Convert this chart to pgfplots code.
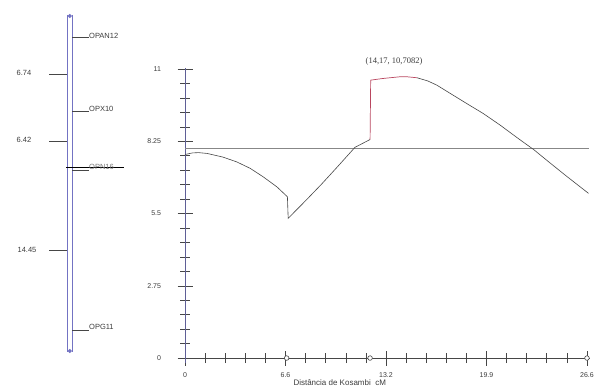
\documentclass[border=0pt]{standalone}
\usepackage{pgfplots}
\pgfplotsset{compat=1.18}
\usepackage{fontspec}
\setmainfont{Liberation Sans}
\newfontfamily\serifann{Liberation Serif}
\definecolor{chrom}{RGB}{115,115,195}
\definecolor{yax}{RGB}{95,95,150}
\definecolor{curve}{RGB}{70,70,70}
\definecolor{peak}{RGB}{185,70,95}
\definecolor{txt}{RGB}{60,60,60}
\definecolor{hline}{RGB}{135,135,135}

\begin{document}
\begin{tikzpicture}
\useasboundingbox (0,0) rectangle (596pt,387pt);
% ---------- left: linkage map (pixel coordinates) ----------
\begin{axis}[at={(0pt,387pt)}, anchor=north west, scale only axis,
  width=150pt, height=387pt, xmin=0, xmax=150, ymin=0, ymax=387,
  y dir=reverse, hide axis, clip=false]
\addplot[chrom, line width=0.8pt] coordinates {(67.3,15) (67.3,352)};
\addplot[chrom, line width=0.8pt] coordinates {(72,15) (72,352)};
\addplot[chrom, only marks, mark=*, mark size=1.9pt] coordinates {(69.7,16) (69.7,351)};
% marker lines
\addplot[curve, line width=0.6pt] coordinates {(72,37.5) (89,37.5)};
\addplot[curve, line width=0.6pt] coordinates {(72,111) (89,111)};
\addplot[curve, line width=0.6pt] coordinates {(72,170) (89,170)};
\addplot[curve, line width=0.6pt] coordinates {(72,330) (89,330)};
% distance ticks
\addplot[curve, line width=0.6pt] coordinates {(49,74.5) (67,74.5)};
\addplot[curve, line width=0.6pt] coordinates {(49,141) (67,141)};
\addplot[curve, line width=0.6pt] coordinates {(49,250.5) (67,250.5)};
% QTL position line
\addplot[black, line width=1.6pt] coordinates {(66,167.5) (124,167.5)};
\node[anchor=west, inner sep=0pt, font=\fontsize{7.5}{8}\selectfont, text=txt] at (axis cs:89,36) {OPAN12};
\node[anchor=west, inner sep=0pt, font=\fontsize{7.5}{8}\selectfont, text=txt] at (axis cs:89,108.5) {OPX10};
\node[anchor=west, inner sep=0pt, font=\fontsize{7.5}{8}\selectfont, text=txt!70] at (axis cs:89,167) {OPN16};
\node[anchor=west, inner sep=0pt, font=\fontsize{7.5}{8}\selectfont, text=txt] at (axis cs:89,326.5) {OPG11};
\node[inner sep=0pt, font=\fontsize{7.5}{8}\selectfont, text=txt] at (axis cs:24,73) {6.74};
\node[inner sep=0pt, font=\fontsize{7.5}{8}\selectfont, text=txt] at (axis cs:24,140) {6.42};
\node[inner sep=0pt, font=\fontsize{7.5}{8}\selectfont, text=txt] at (axis cs:27,250) {14.45};
\end{axis}
% ---------- right: LOD profile ----------
\begin{axis}[at={(182pt,23.7pt)}, anchor=south west, scale only axis,
  width=408pt, height=295.5pt,
  xmin=-0.2, xmax=26.7, ymin=-0.2, ymax=11.05,
  axis lines=middle, axis line style={-},
  x axis line style={curve, line width=0.6pt},
  y axis line style={yax, line width=0.9pt},
  xtick={0,6.625,13.25,19.875,26.5},
  xticklabels={0,6.6,13.2,19.9,26.6},
  ytick={0,2.75,5.5,8.25,11},
  yticklabels={0,2.75,5.5,8.25,11},
  minor x tick num=4, minor y tick num=4,
  tick align=center, major tick length=15pt, minor tick length=10pt,
  tick style={curve, line width=0.6pt},
  hide obscured x ticks=false, hide obscured y ticks=false,
  ticklabel style={font=\fontsize{7}{8}\selectfont, text=txt},
  yticklabel style={xshift=-13pt},
  xticklabel style={yshift=-4pt},
  clip=false]
\addplot[hline, line width=0.9pt] coordinates {(0,7.98) (26.65,7.98)};
\addplot[curve, line width=0.6pt] coordinates {
(0,7.75) (0.5,7.81) (0.9,7.82) (1.45,7.79) (2.5,7.65) (3.4,7.47) (4.3,7.22)
(5.15,6.9) (6.05,6.52) (6.75,6.14) (6.8,5.32) (8.0,6.02) (9.0,6.62)
(10.0,7.25) (11.2,8.02) (12.2,8.32)};
\addplot[peak, line width=0.7pt] coordinates {
(12.2,8.32) (12.24,10.58) (13.0,10.64) (13.5,10.67) (14.17,10.708) (14.6,10.71) (15.3,10.67)};
\addplot[curve, line width=0.6pt] coordinates {
(15.3,10.67) (16.0,10.55) (16.6,10.39) (17.47,10.08) (18.57,9.69) (19.66,9.31)
(20.77,8.87) (21.87,8.4) (23.0,7.93) (24.06,7.43) (25.16,6.92) (26.6,6.27)};
\addplot[only marks, mark=*, mark size=2.3pt, mark options={fill=white, draw=curve, line width=0.6pt}]
  coordinates {(6.7,0) (12.2,0) (26.5,0)};
\node[font=\serifann\fontsize{8.5}{9}\selectfont, text=txt] at (axis cs:13.78,11.3) {(14,17, 10,7082)};
\node[font=\fontsize{8}{9}\selectfont, text=txt] at (axis cs:10.2,-0.95) {Distância de Kosambi\ \ cM};
\end{axis}
\end{tikzpicture}
\end{document}
